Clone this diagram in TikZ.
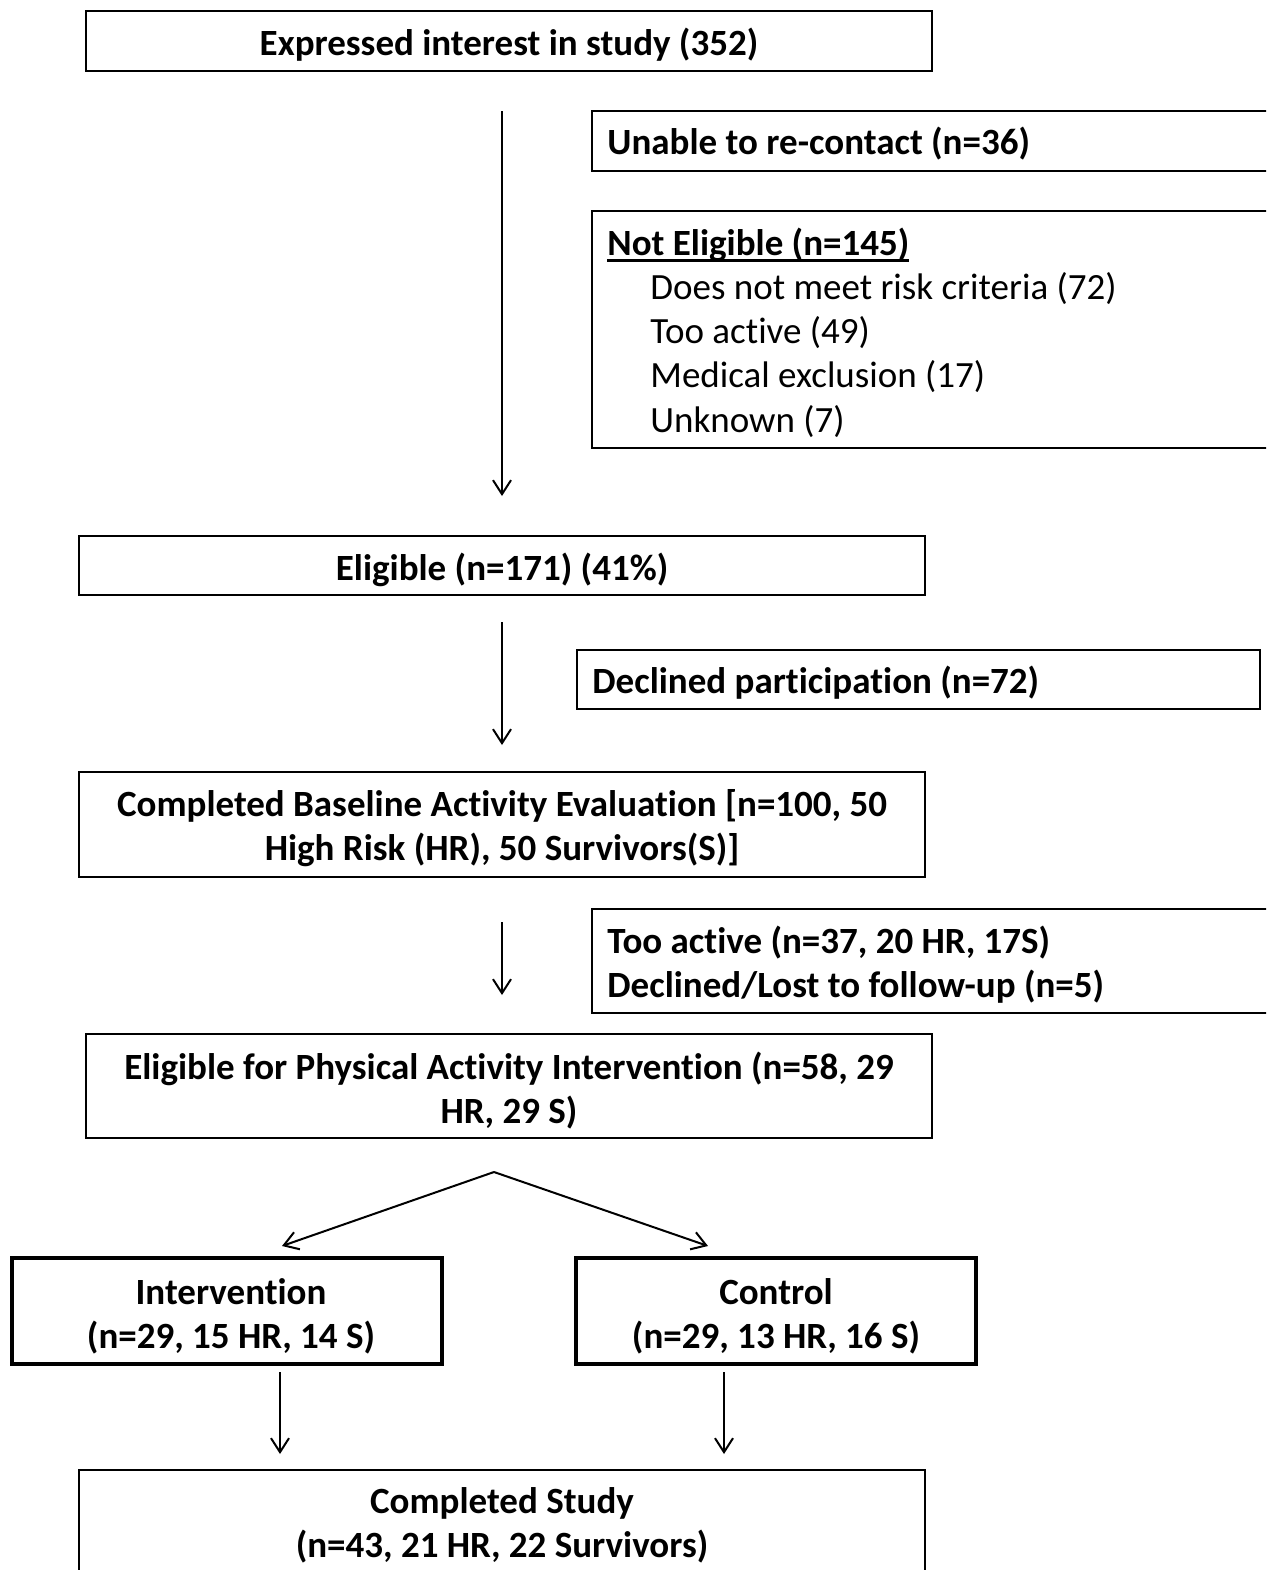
\documentclass[tikz,border=0pt]{standalone}
\usepackage{fontspec}
\setmainfont{Carlito}[Ligatures=NoCommon]
\usetikzlibrary{arrows.meta}
\newcommand\ulinex[1]{\setbox0\hbox{#1}\rlap{\rule[-3.6pt]{\wd0}{1.5pt}}\box0}
\tikzset{
  box/.style={draw=black, line width=1pt, rectangle, inner sep=0pt},
  thickbox/.style={box, line width=1.7pt},
  txt/.style={inner sep=0pt, font=\fontsize{18.5}{22}\selectfont\bfseries, align=center},
  ltxt/.style={inner sep=0pt, anchor=west, font=\fontsize{18.5}{22.1}\selectfont\bfseries, align=flush left},
  flow/.style={draw=black, line width=1pt, -{Straight Barb[length=7pt,width=9pt,line width=1pt]}}
}
\begin{document}
\begin{tikzpicture}[x=0.5pt,y=-0.5pt]
\useasboundingbox (0,0) rectangle (1266,1570);
\clip (0,0) rectangle (1266,1570);
\fill[white] (0,0) rectangle (1266,1570);

% boxes
\node[box, minimum width=423pt, minimum height=30pt] (b1) at (509,41) {};
\node[box, anchor=west, minimum width=354.5pt, minimum height=30pt] (unable) at (591,141) {};
\node[box, anchor=west, minimum width=354.5pt, minimum height=118.5pt] (notelig) at (591,329.5) {};
\node[box, minimum width=423pt, minimum height=29.5pt] (elig) at (502,565.5) {};
\node[box, anchor=west, minimum width=341.5pt, minimum height=29.5pt] (declined) at (576,679.5) {};
\node[box, minimum width=423pt, minimum height=52.5pt] (baseline) at (502,824.5) {};
\node[box, anchor=west, minimum width=354.5pt, minimum height=52pt] (tooactive) at (591,961) {};
\node[box, minimum width=423pt, minimum height=52pt] (eligpa) at (509,1086) {};
\node[thickbox, minimum width=215pt, minimum height=53pt] (interv) at (227,1311) {};
\node[thickbox, minimum width=200pt, minimum height=53pt] (control) at (776,1311) {};
\node[box, minimum width=423pt, minimum height=75pt] (completed) at (502,1545) {};

% texts
\node[txt] (b1t) at ([yshift=-2pt]b1.center) {Expressed interest in study (352)};
\node[ltxt] (unablet) at ([xshift=8pt,yshift=-1.5pt]unable.west) {Unable to re-contact (n=36)};
\node[ltxt] (noteligt) at ([xshift=8pt,yshift=-1.5pt]notelig.west) {\ulinex{Not Eligible (n=145)}\\
\mdseries\hspace*{21.5pt}Does not meet risk criteria (72)\\
\mdseries\hspace*{21.5pt}Too active (49)\\
\mdseries\hspace*{21.5pt}Medical exclusion (17)\\
\mdseries\hspace*{21.5pt}Unknown (7)};
\node[txt] (eligt) at ([yshift=-2pt]elig.center) {Eligible (n=171) (41\%)};
\node[ltxt] (declinedt) at ([xshift=8pt,yshift=-1.5pt]declined.west) {Declined participation (n=72)};
\node[txt] (baselinet) at ([yshift=-2pt]baseline.center) {Completed Baseline Activity Evaluation [n=100, 50\\High Risk (HR), 50 Survivors(S)]};
\node[ltxt] (tooactivet) at ([xshift=8pt,yshift=-2pt]tooactive.west) {Too active (n=37, 20 HR, 17S)\\Declined/Lost to follow-up (n=5)};
\node[txt] (eligpat) at ([yshift=-2.5pt]eligpa.center) {Eligible for Physical Activity Intervention (n=58, 29\\HR, 29 S)};
\node[txt] (intervt) at ([xshift=2pt,yshift=-2.5pt]interv.center) {Intervention\\(n=29, 15 HR, 14 S)};
\node[txt] (controlt) at ([yshift=-2.5pt]control.center) {Control\\(n=29, 13 HR, 16 S)};
\node[txt] (completedt) at (502,1525.5) {Completed Study\\(n=43, 21 HR, 22 Survivors)};

% connectors
\coordinate (a1s) at (502,111);
\coordinate (a1e) at (502,496);
\coordinate (a2s) at (502,622);
\coordinate (a2e) at (502,745);
\coordinate (a3s) at (502,922);
\coordinate (a3e) at (502,995);
\coordinate (split) at (494,1172);
\coordinate (sl) at (282,1246);
\coordinate (sr) at (708,1246);
\coordinate (i1s) at (280,1372);
\coordinate (i1e) at (280,1454);
\coordinate (c1s) at (724,1372);
\coordinate (c1e) at (724,1454);

\draw[flow] (a1s) -- (a1e);
\draw[flow] (a2s) -- (a2e);
\draw[flow] (a3s) -- (a3e);
\draw[flow] (split) -- (sl);
\draw[flow] (split) -- (sr);
\draw[flow] (i1s) -- (i1e);
\draw[flow] (c1s) -- (c1e);
\end{tikzpicture}
\end{document}
